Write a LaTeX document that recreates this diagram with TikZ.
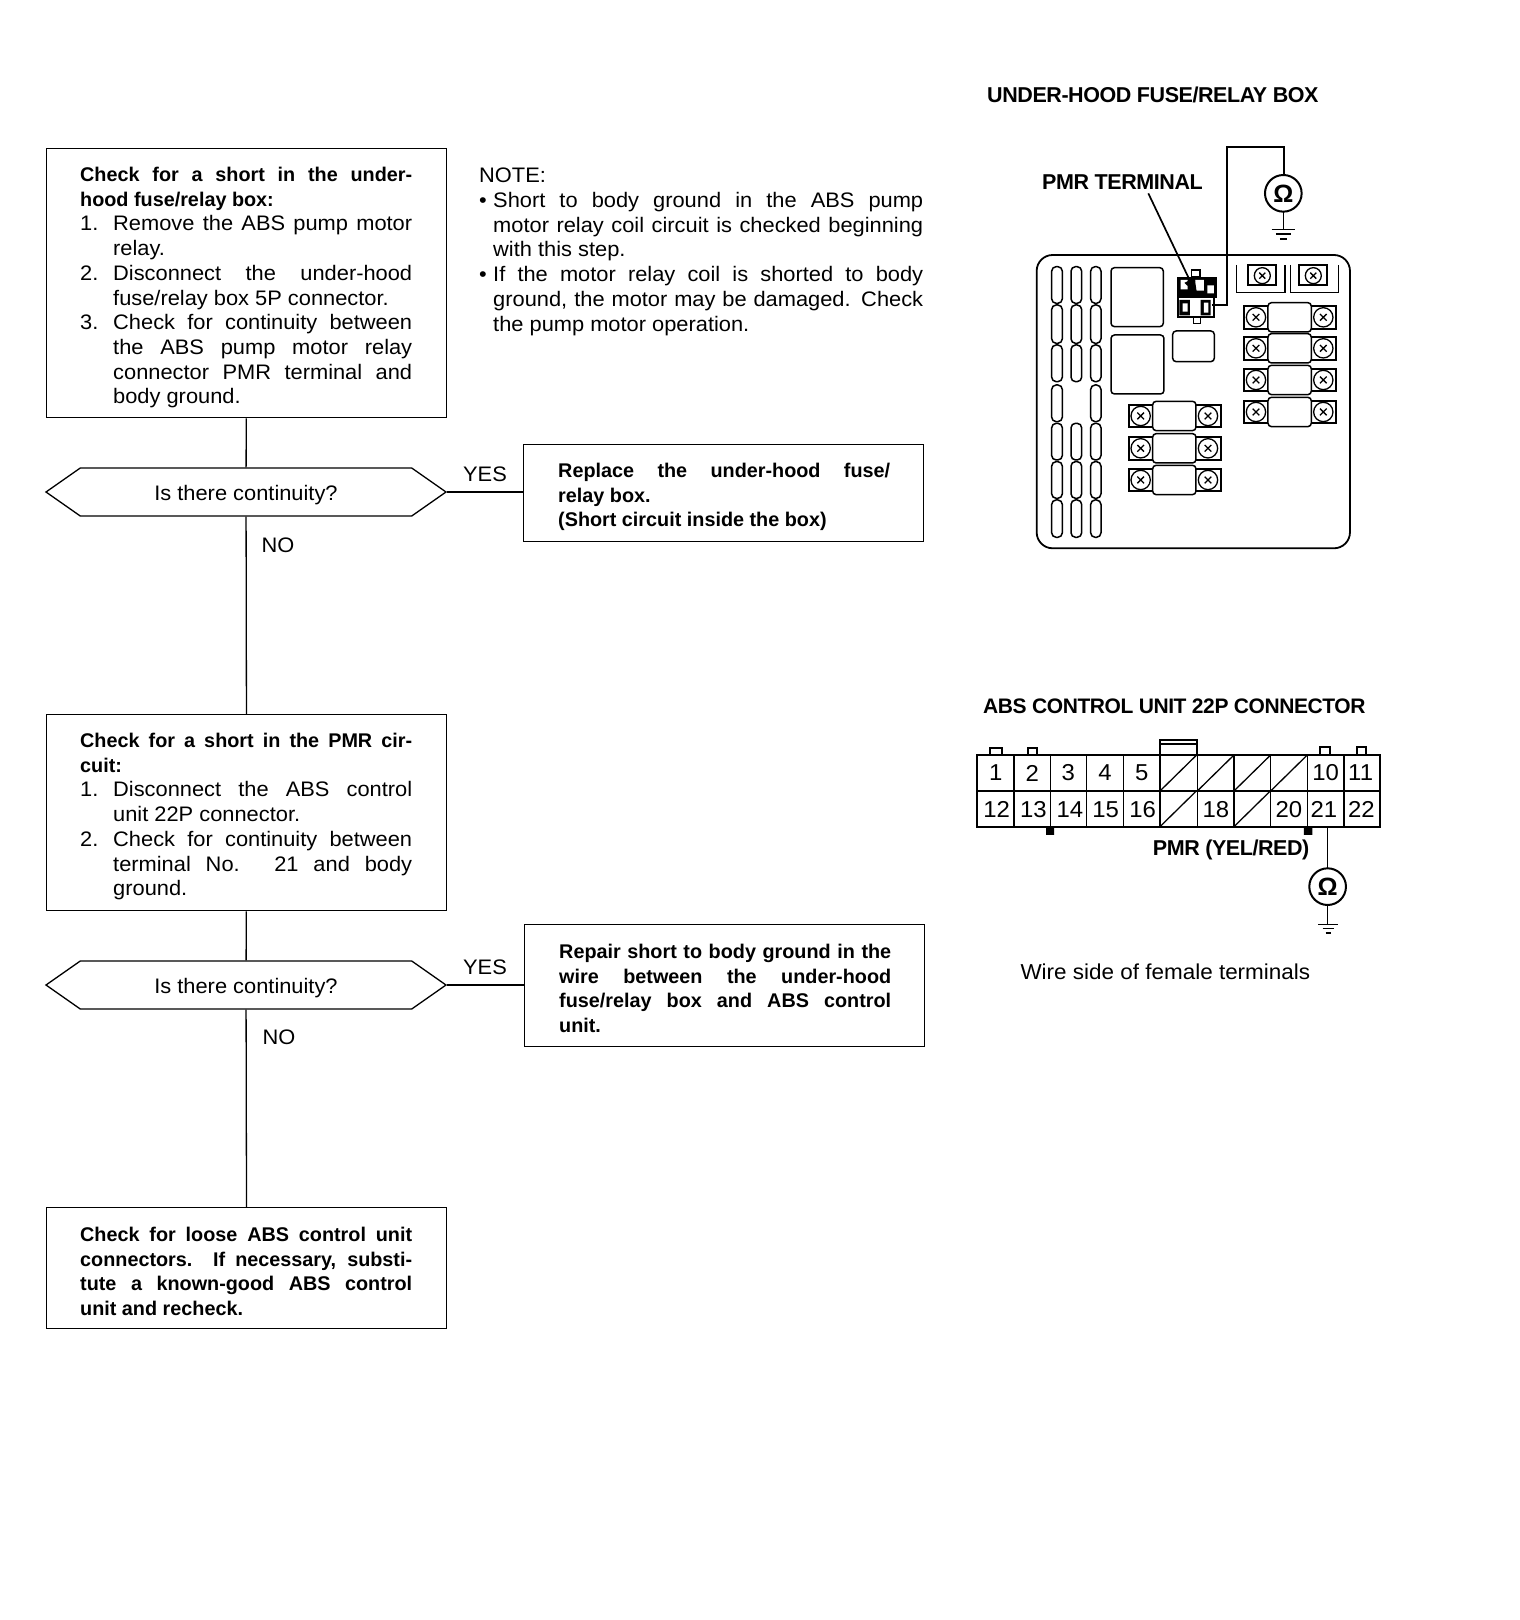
\documentclass[tikz,border=0pt]{standalone}
\usepackage{fontspec}
\setmainfont[FakeStretch=1.04,BoldFeatures={FakeStretch=1.0}]{Liberation Sans}
\usepackage{tikz}
\usetikzlibrary{positioning,shapes.symbols,arrows.meta}
\newfontfamily\tightbf[LetterSpace=-2]{Liberation Sans Bold}
\newcommand{\stepnum}[2]{\par\hangindent=33pt\hangafter=1\noindent\makebox[33pt][l]{#1}#2\par}
\newcommand{\notedot}[1]{\par\hangindent=14pt\hangafter=1\noindent\makebox[14pt][l]{\textbullet}#1\par}
\tikzset{
  stepbox/.style={draw,line width=1.3pt,minimum width=400pt,inner sep=0pt,anchor=north west},
  steptext/.style={anchor=north west,inner sep=0pt,text width=332pt,align=justify,
    font=\fontsize{21}{24.7}\selectfont,
    execute at begin node={\tolerance=9999\emergencystretch=40pt\hyphenpenalty=10000\hbadness=10000}},
  boldtext/.style={steptext,font=\fontsize{19.8}{24.7}\bfseries},
  ask/.style={draw,line width=1.3pt,shape=signal,signal to=east and west,signal pointer angle=70,
    minimum width=400pt,minimum height=48pt,inner sep=0pt,text height=21pt,text depth=4.5pt,
    font=\fontsize{21}{24.7}\selectfont},
  link/.style={line width=1.3pt},
  answer/.style={font=\fontsize{21}{24.7}\selectfont},
  heading/.style={font=\fontsize{21.5}{24}\tightbf,anchor=west,inner sep=0pt},
  slotcell/.style={draw,line width=1.5pt,rounded corners=4.5pt},
  thinpart/.style={draw,line width=1.5pt,rounded corners=3.5pt,fill=white},
  lugpart/.style={draw,line width=2.2pt,fill=white},
  screwhead/.style={line width=1.3pt},
  meterdial/.style={line width=2pt},
  pinlabel/.style={font=\fontsize{23}{24}\selectfont},
  ohmlabel/.style={font=\fontsize{25}{26}\bfseries},
}
\begin{document}
\begin{tikzpicture}[x=1pt,y=-1pt]
  \useasboundingbox (0,0) rectangle (1520,1620);
  % left column: boxes and questions
  \node[stepbox,minimum height=269pt] (shortbox) at (46,148) {};
  \node[steptext] (shorttext) at (80,167) {\fontsize{19.8}{24.7}\bfseries Check for a short in the under-\linebreak hood fuse/relay box:\par
    \fontsize{21}{24.7}\normalfont\stepnum{1.}{Remove the ABS pump motor\linebreak relay.}
    \stepnum{2.}{Disconnect the under-hood\linebreak fuse/relay box 5P connector.}
    \stepnum{3.}{Check for continuity between\linebreak the ABS pump motor relay\linebreak connector PMR terminal and\linebreak body ground.}};
  \node[ask] (askone) at (246,492) {Is there continuity?};
  \node[stepbox,minimum height=97pt] (replacebox) at (523,444) {};
  \node[boldtext] (replacetext) at (558,463)
    {Replace the under-hood fuse/\linebreak relay box.\\(Short circuit inside the box)};
  \node[answer] (yesone) at (485,474) {YES};
  \node[answer] (noone) at (278,545) {NO};
  \node[stepbox,minimum height=196pt] (pmrbox) at (46,714) {};
  \node[steptext] (pmrtext) at (80,733) {\fontsize{19.8}{24.7}\bfseries Check for a short in the PMR cir-\linebreak cuit:\par
    \fontsize{21}{24.7}\normalfont\stepnum{1.}{Disconnect the ABS control\linebreak unit 22P connector.}
    \stepnum{2.}{Check for continuity between\linebreak terminal No. 21 and body\linebreak ground.}};
  \node[ask] (asktwo) at (246,985) {Is there continuity?};
  \node[stepbox,minimum height=122pt] (repairbox) at (524,924) {};
  \node[boldtext] (repairtext) at (559,944)
    {Repair short to body ground in the\linebreak wire between the under-hood\linebreak fuse/relay box and ABS control\linebreak unit.};
  \node[answer] (yestwo) at (485,967) {YES};
  \node[answer] (notwo) at (279,1037) {NO};
  \node[stepbox,minimum height=121pt] (loosebox) at (46,1207) {};
  \node[boldtext] (loosetext) at (80,1227)
    {Check for loose ABS control unit\linebreak connectors. If necessary, substi-\linebreak tute a known-good ABS control\linebreak unit and recheck.};
  \draw[link] (shortbox) -- (askone);
  \draw[link] (askone) -- (replacebox.west |- askone);
  \draw[link] (askone) -- (pmrbox);
  \draw[link] (pmrbox) -- (asktwo);
  \draw[link] (asktwo) -- (repairbox.west |- asktwo);
  \draw[link] (asktwo) -- (loosebox);
  % note
  \node[steptext,text width=444pt] (notetext) at (479,168) {NOTE:
    \notedot{Short to body ground in the ABS pump\linebreak motor relay coil circuit is checked beginning\linebreak with this step.}
    \notedot{If the motor relay coil is shorted to body\linebreak ground, the motor may be damaged. Check\linebreak the pump motor operation.}};
  % fuse box, in the crop's thirds of a pixel
  \node[heading] (fusetitle) at (987,95) {UNDER-HOOD FUSE/RELAY BOX};
  \node[heading] (pmrterm) at (1042,182) {PMR TERMINAL};
  \begin{scope}[shift={(1020,130)},x=.3333pt,y=-.3333pt]
    \draw[line width=1.8pt,rounded corners=16pt] (50,375) rectangle (990,1255);
    \foreach \ya/\yb in {410/520,525/640,645/755,765/875,880/990,995/1105,1110/1222} {
      \draw[slotcell] (95,\ya) rectangle (127,\yb);
      \draw[slotcell] (212,\ya) rectangle (243,\yb);
    }
    \foreach \ya/\yb in {410/520,525/640,645/755,880/990,995/1105,1110/1222}
      \draw[slotcell] (153,\ya) rectangle (185,\yb);
    \draw[thinpart] (273,413) rectangle (430,590);
    \draw[thinpart] (273,615) rectangle (432,792);
    \draw[thinpart] (458,603) rectangle (583,695);
    % fuses
    \foreach \fx/\fy in {708/562,708/655,708/750,708/846,362/858,362/955,362/1050} {
      \draw[lugpart] (\fx-36,\fy-34) rectangle (\fx+240,\fy+34);
      \draw[thinpart] (\fx+36,\fy-44) rectangle (\fx+166,\fy+44);
      \foreach \sx in {0,202} {
        \draw[screwhead,fill=white] (\fx+\sx,\fy) circle (29);
        \draw[screwhead] (\fx+\sx-10,\fy-10) -- (\fx+\sx+10,\fy+10) (\fx+\sx-10,\fy+10) -- (\fx+\sx+10,\fy-10);
      }
    }
    % top lugs
    \draw[line width=1.2pt] (650,405) |- (795,488) -- (795,405);
    \draw[line width=1.2pt] (812,405) |- (955,488) -- (955,405);
    \foreach \sx in {727,880} {
      \draw[lugpart] (\sx-42,405) rectangle (\sx+42,465);
      \draw[screwhead,fill=white] (\sx,437) circle (24);
      \draw[screwhead] (\sx-9,428) -- (\sx+9,446) (\sx-9,446) -- (\sx+9,428);
    }
    % relay connector
    \draw[line width=1.4pt,fill=white] (515,420) rectangle (540,440) (520,562) rectangle (542,580);
    \fill (470,440) rectangle (590,505);
    \draw[line width=2pt] (475,500) rectangle (582,560);
    \fill[white] (482,450) rectangle (503,478) (522,450) rectangle (552,482) (562,466) rectangle (582,490);
    \fill (478,510) rectangle (510,556) (542,510) rectangle (572,556);
    \fill[white] (488,520) rectangle (503,545) (552,518) rectangle (565,548);
    % test lead and meter
    \draw[meterdial] (575,525) -| (622,50) -| (792,135);
    \draw[meterdial] (790,190) circle (55);
    \node[ohmlabel] (ohmfuse) at (790,190) {Ω};
    \draw[line width=1.4pt] (790,245) -- (790,298);
    \draw[line width=1.4pt] (755,298) -- (825,298) (768,312) -- (812,312);
    \draw[line width=1.8pt] (780,326) -- (800,326);
    \draw[line width=1.7pt,-{Latex[length=20pt,width=12pt]}] (385,190) -- (535,505);
  \end{scope}
  % 22P connector
  \node[heading,font=\fontsize{21}{24}\tightbf] (unittitle) at (983,706) {ABS CONTROL UNIT 22P CONNECTOR};
  \begin{scope}[shift={(960,680)},x=.3333pt,y=-.3333pt]
    \draw[meterdial] (90,225) |- (125,205) -- (125,225) (205,225) |- (230,205) -- (230,225)
      (1080,225) |- (1110,200) -- (1110,225) (1190,225) |- (1218,200) -- (1218,225);
    \draw[meterdial] (600,225) -- (600,180) -- (712,180) -- (712,225) (600,192) -- (712,192);
    \fill (258,440) rectangle (282,465) (1032,440) rectangle (1057,465);
    \draw[line width=2.2pt] (52,225) rectangle (1260,440) (52,333) -- (1260,333);
    \foreach \cx in {162,272,380,490,600,712,822,932} \draw[line width=1.3pt] (\cx,225) -- (\cx,440);
    \draw[line width=1.7pt] (1043,225) -- (1043,440) (1152,225) -- (1152,440);
    \foreach \dx/\dy in {600/333,712/333,822/333,932/333,600/440,822/440}
      \draw[line width=1.3pt] (\dx,\dy) -- ++(110,-108);
    \foreach \lx/\ltext in {107/1,217/2,325/3,435/4,545/5,1097/10,1202/11}
      \node[pinlabel] (pin\ltext) at (\lx,279) {\ltext};
    \foreach \lx/\ltext in {110/12,220/13,330/14,437/15,548/16,768/18,987/20,1092/21,1204/22}
      \node[pinlabel] (pin\ltext) at (\lx,388) {\ltext};
    \node[heading] (pmrwire) at (578,511) {PMR (YEL/RED)};
    \draw[line width=1.5pt] (1103,440) -- (1103,565);
    \draw[meterdial] (1103,620) circle (55);
    \node[ohmlabel] (ohmunit) at (1103,620) {Ω};
    \draw[line width=1.4pt] (1103,675) -- (1103,733);
    \draw[line width=1.4pt] (1075,733) -- (1135,733) (1088,746) -- (1122,746);
    \draw[line width=1.8pt] (1097,759) -- (1112,759);
    \node[font=\fontsize{21.6}{24}\selectfont,anchor=west,inner sep=0pt] (wirenote) at (181,875) {Wire side of female terminals};
  \end{scope}
\end{tikzpicture}
\end{document}
